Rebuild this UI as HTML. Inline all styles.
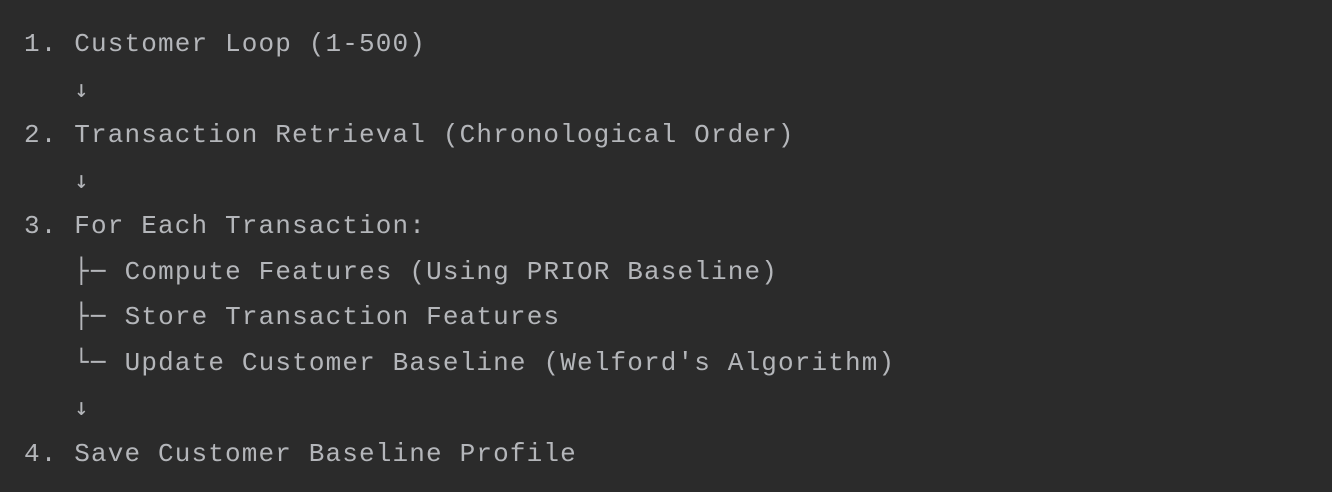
<!DOCTYPE html>
<html><head><meta charset="utf-8"><style>
html,body{margin:0;padding:0;background:#2b2b2b;width:1332px;height:492px;overflow:hidden}
pre{position:absolute;left:24px;top:22px;margin:0;font-family:"Liberation Mono","DejaVu Sans Mono",monospace;font-size:26px;letter-spacing:1.15px;line-height:45.5px;color:#b4b6ba}
.a{font-family:"DejaVu Sans Mono",monospace;font-size:24px;letter-spacing:2.35px;line-height:1;vertical-align:baseline}
</style></head><body>
<pre>1. Customer Loop (1-500)
   <span class="a">↓</span>
2. Transaction Retrieval (Chronological Order)
   <span class="a">↓</span>
3. For Each Transaction:
   <span class="a">├─</span> Compute Features (Using PRIOR Baseline)
   <span class="a">├─</span> Store Transaction Features
   <span class="a">└─</span> Update Customer Baseline (Welford's Algorithm)
   <span class="a">↓</span>
4. Save Customer Baseline Profile</pre>
</body></html>
